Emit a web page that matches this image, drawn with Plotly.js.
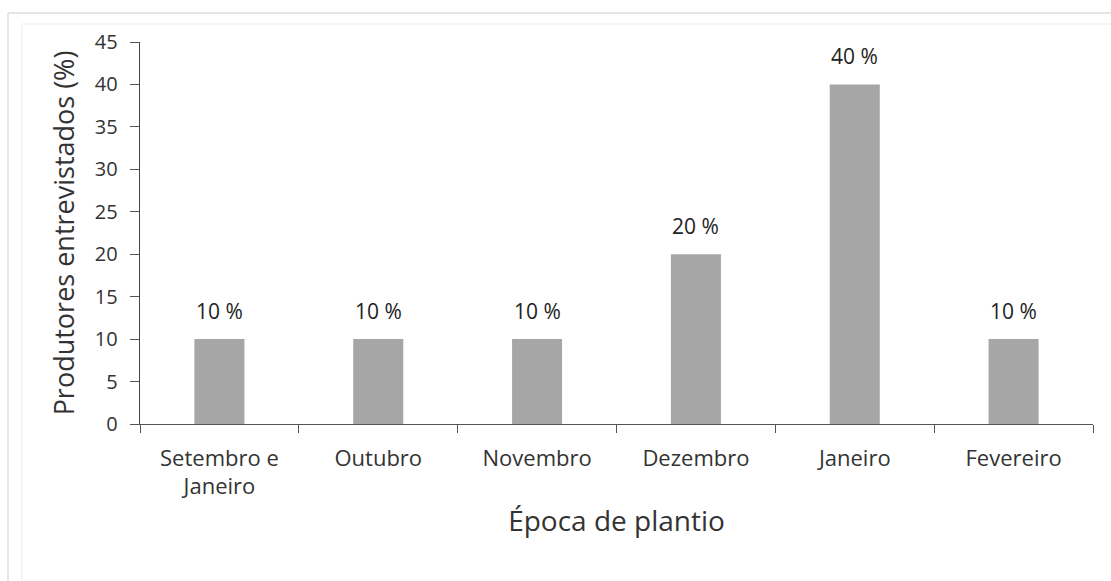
<!DOCTYPE html>
<html><head><meta charset="utf-8">
<script src="https://cdn.plot.ly/plotly-3.0.1.min.js"></script>
<style>html,body{margin:0;padding:0;background:#fff;}#chart{width:1111px;height:581px;}</style>
</head><body><div id="chart"></div>
<script>
const categories = ["Setembro e<br>Janeiro", "Outubro", "Novembro", "Dezembro", "Janeiro", "Fevereiro"];
const values = [10, 10, 10, 20, 40, 10];
const labels = ["10 %", "10 %", "10 %", "20 %", "40 %", "10 %"];
const yTicks = [0, 5, 10, 15, 20, 25, 30, 35, 40, 45];

const font = "'Open Sans', Lato, sans-serif";
const trace = {
  type: "bar", x: categories, y: values,
  marker: {color: "#a6a6a6"},
  hoverinfo: "none"
};
const annotations = categories.map((c, i) => ({
  x: c, y: values[i], text: labels[i], showarrow: false,
  yanchor: "bottom", yshift: 12,
  font: {family: font, size: 21, color: "#222"}
}));
const layout = {
  width: 1111, height: 581,
  margin: {l: 140, r: 18, t: 42, b: 157},
  paper_bgcolor: "#fff", plot_bgcolor: "#fff",
  bargap: 0.685,
  showlegend: false,
  xaxis: {
    type: "category", showgrid: false, zeroline: false,
    showline: true, linecolor: "#555", linewidth: 1.3,
    ticks: "outside", tickson: "boundaries", ticklen: 8, tickcolor: "#555",
    ticklabelstandoff: 14,
    tickfont: {family: font, size: 22, color: "#333"},
    title: {text: "Época de plantio", font: {family: font, size: 28, color: "#333"}, standoff: 12}
  },
  yaxis: {
    range: [0, 45], tickvals: yTicks, showgrid: false, zeroline: false,
    showline: true, linecolor: "#444", linewidth: 1.3,
    ticks: "outside", ticklen: 9, tickcolor: "#555",
    ticklabelstandoff: 8,
    tickfont: {family: font, size: 20, color: "#333"},
    title: {text: "Produtores entrevistados (%)", font: {family: font, size: 27, color: "#333"}, standoff: 12}
  },
  annotations: annotations,
  shapes: [
    {type: "line", xref: "paper", yref: "paper", x0: -0.1385, x1: 1.02, y0: 1.0759, y1: 1.0759, line: {color: "#e6e6e6", width: 2}},
    {type: "line", xref: "paper", yref: "paper", x0: -0.1385, x1: -0.1385, y0: 1.0759, y1: -0.42, line: {color: "#e6e6e6", width: 2}},
    {type: "line", xref: "paper", yref: "paper", x0: -0.124, x1: 1.02, y0: 1.047, y1: 1.047, line: {color: "#f4f4f4", width: 2}},
    {type: "line", xref: "paper", yref: "paper", x0: -0.124, x1: -0.124, y0: 1.047, y1: -0.42, line: {color: "#f4f4f4", width: 2}}
  ]
};
Plotly.newPlot("chart", [trace], layout, {displayModeBar: false, staticPlot: true});
</script></body></html>
